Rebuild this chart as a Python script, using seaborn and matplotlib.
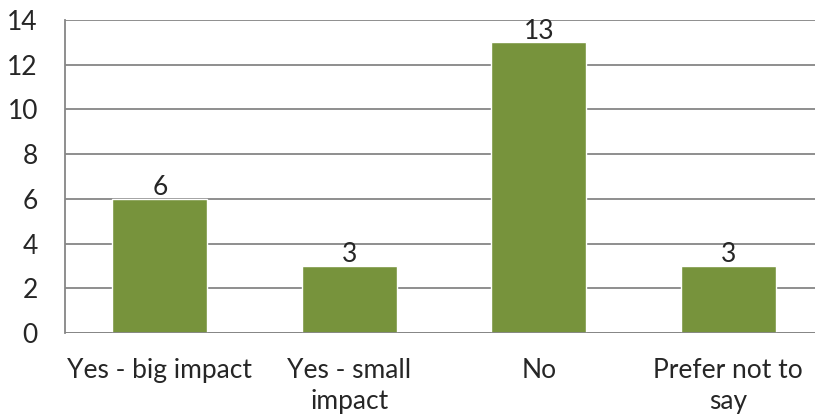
import matplotlib
matplotlib.use("Agg")
import matplotlib.pyplot as plt
import seaborn as sns
import pandas as pd

# --- data ---
categories = ["Yes - big impact", "Yes - small\nimpact", "No", "Prefer not to\nsay"]
counts = [6, 3, 13, 3]

df = pd.DataFrame({"answer": categories, "count": counts})

sns.set_style("white")
plt.rcParams["font.family"] = ["Lato", "DejaVu Sans"]

grey = "#868686"
green = "#77933C"

fig = plt.figure(figsize=(8.15, 4.18), dpi=100)
# axes spans past the right edge, like the cropped original
ax = fig.add_axes([65 / 815, 1 - 333 / 418, 758 / 815, 313 / 418])

sns.barplot(data=df, x="answer", y="count", color=green, width=0.5,
            saturation=1, ax=ax, zorder=3)

ax.set_ylim(0, 14)
ax.set_xlim(-0.5, 3.5)
ax.set_yticks(range(0, 15, 2))
ax.yaxis.grid(True, color=grey, linewidth=1.3, zorder=0)
ax.set_axisbelow(True)

for s in ["top", "right", "bottom"]:
    ax.spines[s].set_visible(False)
ax.spines["left"].set_color(grey)
ax.spines["left"].set_linewidth(1.3)
ax.axhline(0, color=grey, linewidth=1.3, zorder=4)

# category boundary ticks
ax.set_xticks([-0.5, 0.5, 1.5, 2.5], minor=True)
ax.tick_params(axis="x", which="minor", length=6.5, width=1.3, color=grey, direction="out")
ax.tick_params(axis="x", which="major", length=0, pad=18, labelsize=19)
ax.tick_params(axis="y", length=6.5, width=1.3, color=grey, direction="out", labelsize=19, pad=13)
for lbl in ax.get_xticklabels():
    lbl.set_linespacing(1.3)

ax.set_xlabel("")
ax.set_ylabel("")

for i, v in enumerate(counts):
    ax.annotate(str(v), (i, v), xytext=(0, -1), textcoords="offset points",
                ha="center", va="bottom", fontsize=19, zorder=5)

plt.savefig("out.png", dpi=100)
plt.close()
